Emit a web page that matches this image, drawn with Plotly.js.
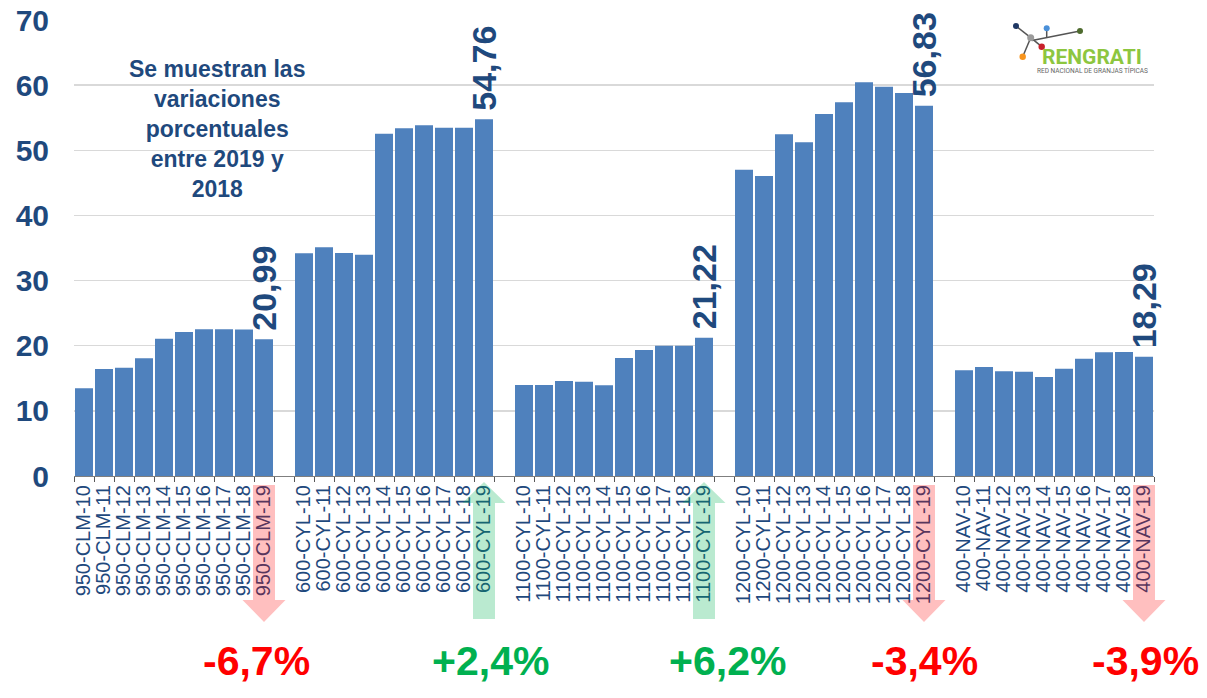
<!DOCTYPE html>
<html>
<head>
<meta charset="utf-8">
<script src="https://cdn.plot.ly/plotly-3.0.1.min.js"></script>
<style>
  html, body { margin: 0; padding: 0; background: #ffffff; }
  #chart { width: 1207px; height: 698px; }
</style>
</head>
<body>
<div id="chart"></div>
<script>
// ---- Data ----
const groupPrefixes = ['950-CLM-', '600-CYL-', '1100-CYL-', '1200-CYL-', '400-NAV-'];
const years = ['10', '11', '12', '13', '14', '15', '16', '17', '18', '19'];

const clm950  = [13.46, 16.43, 16.63, 18.07, 21.08, 22.10, 22.52, 22.52, 22.50, 20.99];
const cyl600  = [34.19, 35.10, 34.23, 33.97, 52.55, 53.37, 53.83, 53.47, 53.47, 54.76];
const cyl1100 = [13.97, 13.97, 14.58, 14.48, 13.92, 18.11, 19.34, 20.00, 19.98, 21.22];
const cyl1200 = [47.02, 46.05, 52.45, 51.22, 55.57, 57.36, 60.43, 59.77, 58.80, 56.83];
const nav400  = [16.22, 16.73, 16.07, 16.01, 15.20, 16.47, 18.00, 18.99, 19.04, 18.29];

const lastValueLabels = ['20,99', '54,76', '21,22', '56,83', '18,29'];
const changeLabels = ['-6,7%', '+2,4%', '+6,2%', '-3,4%', '-3,9%'];
const changeDirections = ['down', 'up', 'up', 'down', 'down'];

const noteText = 'Se muestran las<br>variaciones<br>porcentuales<br>entre 2019 y<br>2018';

// ---- Build category axis (with blank gap slots between groups) ----
const groupValues = [clm950, cyl600, cyl1100, cyl1200, nav400];
const xCats = [];
const yVals = [];
const lastIdx = [];
groupValues.forEach((vals, g) => {
  vals.forEach((v, i) => {
    xCats.push(groupPrefixes[g] + years[i]);
    yVals.push(v);
  });
  lastIdx.push(xCats.length - 1);
  if (g < groupValues.length - 1) {
    xCats.push(' '.repeat(g + 1));
    yVals.push(null);
  }
});
const nCats = xCats.length;

// ---- Layout helpers (pixel -> paper) ----
const W = 1207, H = 698;
const M = {l: 74, r: 53, t: 20, b: 222};
const PW = W - M.l - M.r, PH = H - M.t - M.b;
const px = x => (x - M.l) / PW;
const py = y => (H - M.b - y) / PH;
const catX = i => (i + 0.5) / nCats;

const textBlue = '#1F497D';
const shapes = [];
const annotations = [];

// arrows under last label of each group
lastIdx.forEach((idx, g) => {
  const cx = catX(idx);
  const sw = 11 / PW, hw = 21.5 / PW;
  let path, fill;
  if (changeDirections[g] === 'down') {
    const yTop = py(485), yBase = py(600), yTip = py(622);
    path = `M ${cx - sw} ${yTop} L ${cx + sw} ${yTop} L ${cx + sw} ${yBase} L ${cx + hw} ${yBase} L ${cx} ${yTip} L ${cx - hw} ${yBase} L ${cx - sw} ${yBase} Z`;
    fill = 'rgba(255,0,0,0.25)';
  } else {
    const yTip = py(482), yBase = py(503), yBot = py(619);
    path = `M ${cx} ${yTip} L ${cx + hw} ${yBase} L ${cx + sw} ${yBase} L ${cx + sw} ${yBot} L ${cx - sw} ${yBot} L ${cx - sw} ${yBase} L ${cx - hw} ${yBase} Z`;
    fill = 'rgba(0,176,80,0.27)';
  }
  shapes.push({type: 'path', xref: 'paper', yref: 'paper', path: path,
               fillcolor: fill, line: {width: 0}, layer: 'above'});

  // value label above the last bar
  annotations.push({
    x: xCats[idx], y: yVals[idx], xref: 'x', yref: 'y',
    text: lastValueLabels[g], showarrow: false, textangle: -90,
    xanchor: 'center', yanchor: 'bottom', yshift: 6,
    font: {family: 'Liberation Sans, Arial, sans-serif', size: 34, color: textBlue, weight: 'bold'}
  });
});

// percentage change labels
const changeX = [256, 490, 727, 924, 1145];
changeLabels.forEach((t, g) => {
  annotations.push({
    x: px(changeX[g]), y: py(661), xref: 'paper', yref: 'paper',
    text: t, showarrow: false, xanchor: 'center', yanchor: 'middle',
    font: {family: 'Liberation Sans, Arial, sans-serif', size: 41, weight: 'bold',
           color: changeDirections[g] === 'down' ? '#FF0000' : '#00B050'}
  });
});

// note text
annotations.push({
  x: px(217), y: py(128.5), xref: 'paper', yref: 'paper',
  text: noteText, showarrow: false, xanchor: 'center', yanchor: 'middle', align: 'center',
  font: {family: 'Liberation Sans, Arial, sans-serif', size: 23, weight: 'bold', color: textBlue}
});

// ---- Logo (RENGRATI) ----
shapes.push({type: 'rect', xref: 'paper', yref: 'paper', x0: px(1012), x1: px(1154), y0: py(17), y1: py(78),
             fillcolor: 'rgba(255,255,255,0.65)', line: {width: 0}, layer: 'above'});
const logoLines = [
  [1016, 26, 1030.7, 37.7],
  [1030.7, 37.7, 1041.7, 46.7],
  [1030.7, 37.7, 1022.7, 56.7],
  [1032, 40.5, 1080, 31],
  [1046.7, 28.3, 1046.7, 37.5]
];
logoLines.forEach(l => shapes.push({type: 'line', xref: 'paper', yref: 'paper',
  x0: px(l[0]), y0: py(l[1]), x1: px(l[2]), y1: py(l[3]), line: {color: '#555555', width: 1.5}, layer: 'above'}));
const logoDots = [
  [1016, 26, 3, '#1F3864'],
  [1046.7, 28.3, 3, '#4A90D9'],
  [1080, 31, 3, '#4E6B2E'],
  [1030.7, 37.7, 3.5, '#9B9B9B'],
  [1041.7, 46.7, 3.2, '#C8202A'],
  [1022.7, 56.7, 3.2, '#F7941D']
];
logoDots.forEach(d => shapes.push({type: 'circle', xref: 'paper', yref: 'paper',
  x0: px(d[0] - d[2]), x1: px(d[0] + d[2]), y0: py(d[1] + d[2]), y1: py(d[1] - d[2]),
  fillcolor: d[3], line: {width: 0}, layer: 'above'}));
annotations.push({
  x: px(1092), y: py(57), xref: 'paper', yref: 'paper', text: 'RENGRATI', showarrow: false,
  xanchor: 'center', yanchor: 'middle',
  font: {family: 'Roboto, Liberation Sans, sans-serif', size: 21, color: '#8DC63F', weight: 'bold'}
});
annotations.push({
  x: px(1092), y: py(71), xref: 'paper', yref: 'paper', text: 'RED NACIONAL DE GRANJAS TÍPICAS', showarrow: false,
  xanchor: 'center', yanchor: 'middle',
  font: {family: 'Roboto, Liberation Sans, sans-serif', size: 6.5, color: '#666666'}
});

// ---- Plot ----
const trace = {
  type: 'bar', x: xCats, y: yVals,
  marker: {color: '#4F81BD', line: {width: 0}},
  hoverinfo: 'x+y'
};

const layout = {
  width: W, height: H,
  margin: M,
  paper_bgcolor: '#ffffff', plot_bgcolor: '#ffffff',
  showlegend: false,
  bargap: 0.1,
  xaxis: {
    type: 'category', range: [-0.5, nCats - 0.5], fixedrange: true,
    categoryorder: 'array', categoryarray: xCats,
    tickmode: 'array', tickvals: xCats, ticktext: xCats,
    tickson: 'boundaries', ticks: 'outside', ticklen: 5, tickcolor: '#595959', tickwidth: 1,
    showline: true, linecolor: '#7F7F7F', linewidth: 1.2,
    showgrid: false, tickangle: -90, automargin: false,
    tickfont: {family: 'Liberation Sans, Arial, sans-serif', size: 20, color: textBlue}
  },
  yaxis: {
    range: [0, 70], dtick: 10, tick0: 0, fixedrange: true,
    showgrid: true, gridcolor: '#D9D9D9', gridwidth: 1.5,
    zeroline: false, showline: false, ticks: '', ticklabelstandoff: 24, automargin: false,
    tickfont: {family: 'Liberation Sans, Arial, sans-serif', size: 30, color: textBlue, weight: 'bold'}
  },
  shapes: shapes,
  annotations: annotations
};

Plotly.newPlot('chart', [trace], layout, {displayModeBar: false, staticPlot: true});
</script>
</body>
</html>
